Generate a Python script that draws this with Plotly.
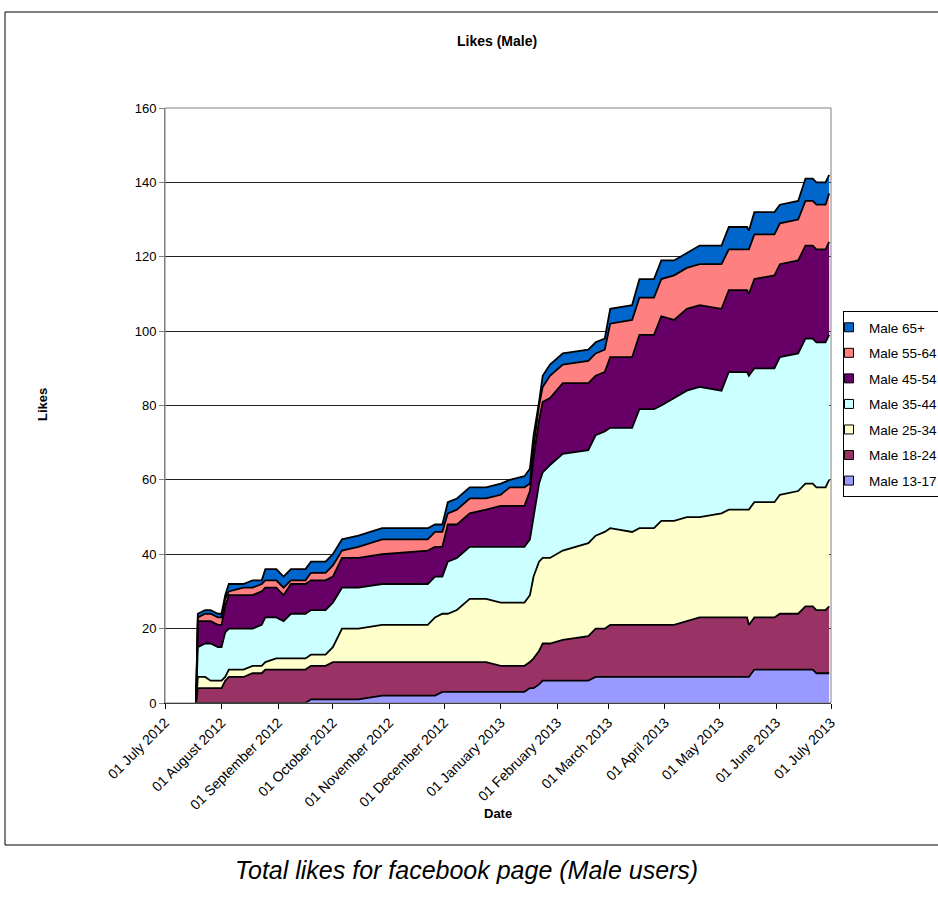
import plotly.graph_objects as go

# Daily snapshot dates (sampled where the counts change)
dates = [
    "2012-07-18", "2012-07-19", "2012-07-23", "2012-07-26", "2012-07-30", "2012-08-01",
    "2012-08-03", "2012-08-05", "2012-08-13", "2012-08-18", "2012-08-23", "2012-08-25",
    "2012-08-31", "2012-09-04", "2012-09-08", "2012-09-16", "2012-09-19", "2012-09-27",
    "2012-10-01", "2012-10-06", "2012-10-15", "2012-10-28", "2012-11-22", "2012-11-26",
    "2012-11-30", "2012-12-03", "2012-12-08", "2012-12-15", "2012-12-24", "2013-01-01",
    "2013-01-06", "2013-01-14", "2013-01-17", "2013-01-19", "2013-01-22", "2013-01-24",
    "2013-01-28", "2013-02-04", "2013-02-18", "2013-02-22", "2013-02-27", "2013-03-02",
    "2013-03-14", "2013-03-18", "2013-03-26", "2013-03-30", "2013-04-06", "2013-04-13",
    "2013-04-20", "2013-05-02", "2013-05-06", "2013-05-16", "2013-05-17", "2013-05-20",
    "2013-05-31", "2013-06-03", "2013-06-13", "2013-06-17", "2013-06-21", "2013-06-23",
    "2013-06-28", "2013-06-30",
]

male_13_17 = [0, 0, 0, 0, 0, 0, 0, 0, 0, 0, 0, 0, 0, 0, 0, 0, 1, 1, 1, 1, 1, 2, 2, 2, 3, 3, 3, 3, 3, 3,
              3, 3, 4, 4, 5, 6, 6, 6, 6, 7, 7, 7, 7, 7, 7, 7, 7, 7, 7, 7, 7, 7, 7, 9, 9, 9, 9, 9, 9, 8,
              8, 8]
male_18_24 = [0, 4, 4, 4, 4, 4, 6, 7, 7, 8, 8, 9, 9, 9, 9, 9, 9, 9, 10, 10, 10, 9, 9, 9, 8, 8, 8, 8, 8, 7,
              7, 7, 7, 8, 9, 10, 10, 11, 12, 13, 13, 14, 14, 14, 14, 14, 14, 15, 16, 16, 16, 16, 14, 14, 14, 15,
              15, 17, 17, 17, 17, 18]
male_25_34 = [0, 3, 3, 2, 2, 2, 1, 2, 2, 2, 2, 2, 3, 3, 3, 3, 3, 3, 4, 9, 9, 10, 10, 12, 13, 13, 14, 17, 17, 17,
              17, 17, 18, 22, 24, 23, 23, 24, 25, 25, 26, 26, 25, 26, 26, 28, 28, 28, 27, 28, 29, 29, 31, 31, 31, 32,
              33, 33, 33, 33, 33, 34]
male_35_44 = [0, 8, 9, 10, 9, 9, 12, 11, 11, 10, 11, 12, 11, 10, 12, 12, 12, 12, 12, 11, 11, 11, 11, 11, 10, 14, 14, 14, 14, 15,
              15, 15, 15, 16, 21, 23, 25, 26, 25, 27, 27, 27, 28, 32, 32, 31, 33, 34, 35, 33, 37, 37, 36, 36, 36, 37,
              37, 39, 39, 39, 39, 39]
male_45_54 = [0, 7, 6, 6, 6, 6, 7, 9, 9, 9, 9, 8, 8, 7, 8, 8, 8, 8, 7, 8, 8, 8, 9, 8, 8, 10, 9, 9, 10, 11,
              11, 11, 13, 16, 17, 19, 18, 19, 18, 16, 16, 19, 19, 20, 20, 24, 21, 22, 22, 22, 22, 22, 22, 24, 25, 25,
              25, 25, 25, 25, 25, 25]
male_55_64 = [0, 1, 2, 2, 2, 2, 2, 1, 2, 2, 2, 2, 2, 2, 1, 1, 2, 2, 3, 2, 3, 4, 3, 4, 4, 3, 4, 4, 3, 3,
              5, 5, 2, 3, 4, 4, 6, 5, 6, 6, 6, 9, 10, 10, 10, 10, 12, 11, 11, 12, 11, 11, 12, 12, 11, 11,
              11, 12, 12, 12, 12, 13]
male_65_plus = [0, 1, 1, 1, 1, 1, 1, 2, 1, 2, 1, 3, 3, 3, 3, 3, 3, 3, 3, 3, 3, 3, 3, 2, 2, 3, 3, 3, 3, 3,
                2, 3, 4, 3, 1, 3, 3, 3, 3, 3, 3, 4, 4, 5, 5, 5, 4, 4, 5, 5, 6, 6, 5, 6, 6, 5,
                5, 6, 6, 6, 6, 5]

series_names = ["Male 13-17", "Male 18-24", "Male 25-34", "Male 35-44",
                "Male 45-54", "Male 55-64", "Male 65+"]
series_values = [male_13_17, male_18_24, male_25_34, male_35_44,
                 male_45_54, male_55_64, male_65_plus]
series_colors = ["#9999FF", "#993366", "#FFFFCC", "#CCFFFF",
                 "#660066", "#FF8080", "#0066CC"]

tick_dates = ["2012-07-01", "2012-08-01", "2012-09-01", "2012-10-01", "2012-11-01",
              "2012-12-01", "2013-01-01", "2013-02-01", "2013-03-01", "2013-04-01",
              "2013-05-01", "2013-06-01", "2013-07-01"]
tick_labels = ["01 July 2012", "01 August 2012", "01 September 2012", "01 October 2012",
               "01 November 2012", "01 December 2012", "01 January 2013", "01 February 2013",
               "01 March 2013", "01 April 2013", "01 May 2013", "01 June 2013", "01 July 2013"]

FONT = "Liberation Sans, Arial, sans-serif"

fig = go.Figure()

# stacked areas, bottom band first
for name, vals, col in zip(series_names, series_values, series_colors):
    fig.add_trace(go.Scatter(
        x=dates, y=vals, name=name, mode="lines",
        stackgroup="likes", showlegend=False,
        line=dict(color="black", width=1.8),
        fillcolor=col,
    ))

# legend keys: small outlined squares, oldest age band listed first
for name, col in zip(series_names[::-1], series_colors[::-1]):
    fig.add_trace(go.Scatter(
        x=[None], y=[None], name=name, mode="markers", legendgroup=name,
        marker=dict(symbol="square", size=9, color=col,
                    line=dict(color="black", width=1)),
        showlegend=True, hoverinfo="skip",
    ))

W, H = 938, 906
L, R, T, B = 165, 831, 108, 703


def px_x(p):
    return (p - L) / (R - L)


def px_y(p):
    return (B - p) / (B - T)


fig.update_layout(
    width=W, height=H,
    margin=dict(l=L, r=W - R, t=T, b=H - B, autoexpand=False),
    paper_bgcolor="white", plot_bgcolor="white",
    font=dict(family=FONT, size=13, color="black"),
    showlegend=True,
    legend=dict(
        x=px_x(843), y=px_y(311), xanchor="left", yanchor="top",
        traceorder="grouped", tracegroupgap=5, indentation=-15,
        bordercolor="black", borderwidth=1, bgcolor="white",
        font=dict(family=FONT, size=13.5),
        itemwidth=30,
    ),
    xaxis=dict(
        type="date", range=["2012-07-01", "2013-07-01"],
        tickvals=tick_dates, ticktext=tick_labels, tickangle=-45,
        ticks="outside", ticklen=5, tickcolor="black",
        showline=True, linecolor="black", linewidth=1,
        showgrid=False, zeroline=False,
        tickfont=dict(family=FONT, size=14),
    ),
    yaxis=dict(
        range=[0, 160], dtick=20, tick0=0,
        ticks="outside", ticklen=5, tickcolor="#808080",
        showline=True, linecolor="#808080", linewidth=1,
        showgrid=True, gridcolor="#222222", gridwidth=1,
        zeroline=False,
        tickfont=dict(family=FONT, size=13),
    ),
    shapes=[
        # plot area frame
        dict(type="rect", xref="paper", yref="paper", x0=0, x1=1, y0=0, y1=1,
             line=dict(color="#808080", width=1), layer="above"),
        # outer chart frame
        dict(type="rect", xref="paper", yref="paper",
             x0=px_x(5), x1=px_x(960), y0=px_y(845), y1=px_y(12),
             line=dict(color="black", width=1)),
    ],
    annotations=[
        dict(text="<b>Likes (Male)</b>", xref="paper", yref="paper",
             x=px_x(497), y=px_y(41), showarrow=False, xanchor="center", yanchor="middle",
             font=dict(family=FONT, size=14)),
        dict(text="<b>Likes</b>", xref="paper", yref="paper",
             x=px_x(42), y=px_y(405), showarrow=False, textangle=-90,
             xanchor="center", yanchor="middle",
             font=dict(family=FONT, size=13)),
        dict(text="<b>Date</b>", xref="paper", yref="paper",
             x=px_x(498), y=px_y(813), showarrow=False, xanchor="center", yanchor="middle",
             font=dict(family=FONT, size=13)),
        dict(text="<i>Total likes for facebook page (Male users)</i>", xref="paper", yref="paper",
             x=px_x(466), y=px_y(870), showarrow=False, xanchor="center", yanchor="middle",
             font=dict(family=FONT, size=25)),
    ],
)

fig.write_html("out.html")
